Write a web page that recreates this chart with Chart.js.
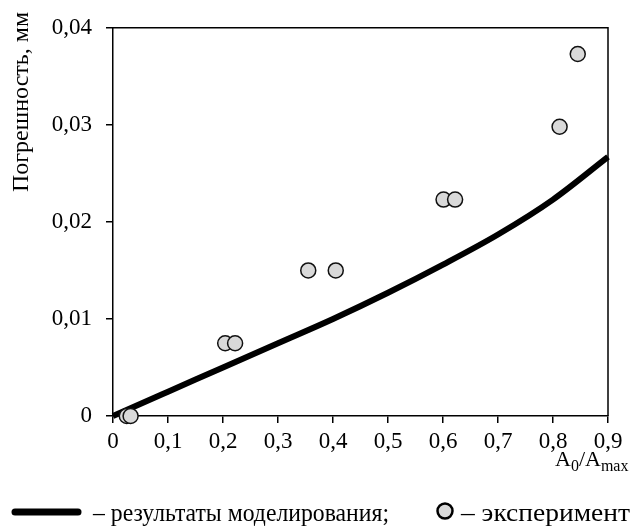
<!DOCTYPE html>
<html>
<head>
<meta charset="utf-8">
<script src="https://cdn.jsdelivr.net/npm/chart.js@4.4.1/dist/chart.umd.min.js"></script>
<style>
  html, body { margin: 0; padding: 0; background: #fff; }
  #wrap { width: 633px; height: 528px; position: relative; }
</style>
</head>
<body>
<div id="wrap"><canvas id="chart"></canvas></div>
<script>
// model curve (results of modelling)
const modelX = [0, 0.1, 0.2, 0.3, 0.4, 0.5, 0.6, 0.7, 0.8, 0.9];
const modelY = [0, 0.0025, 0.0050, 0.0075, 0.0100, 0.0127, 0.0156, 0.0187, 0.0223, 0.0267];

// experiment points
const expX = [0.025, 0.032, 0.204, 0.222, 0.355, 0.405, 0.601, 0.622, 0.812, 0.845];
const expY = [0, 0, 0.0075, 0.0075, 0.015, 0.015, 0.0223, 0.0223, 0.0298, 0.0373];

const FONT = '"Liberation Serif", "Times New Roman", serif';

const comma = (v, d) => v === 0 ? '0' : v.toFixed(d).replace('.', ',');

// draw text squeezed/stretched so it fits between x0 and x1
function fitText(ctx, txt, x0, x1, y) {
    const w = ctx.measureText(txt).width;
    ctx.save();
    ctx.translate(x0, y);
    ctx.scale((x1 - x0) / w, 1);
    ctx.fillText(txt, 0, 0);
    ctx.restore();
}

// frame on top/right, axis titles and the bottom legend
const extras = {
    id: 'extras',
    afterDraw(chart) {
        const ctx = chart.ctx;
        const a = chart.chartArea;
        ctx.save();
        ctx.strokeStyle = '#000';
        ctx.lineWidth = 1.5;
        ctx.beginPath();
        ctx.moveTo(a.left, a.top);
        ctx.lineTo(a.right, a.top);
        ctx.lineTo(a.right, a.bottom);
        ctx.stroke();

        // y title
        ctx.fillStyle = '#000';
        ctx.font = '24px ' + FONT;
        ctx.translate(28, 102);
        ctx.rotate(-Math.PI / 2);
        ctx.textAlign = 'center';
        ctx.textBaseline = 'alphabetic';
        ctx.fillText('Погрешность, мм', 0, 0);
        ctx.restore();

        // x title A0/Amax
        ctx.save();
        ctx.fillStyle = '#000';
        ctx.textBaseline = 'alphabetic';
        let x = 555, y = 466;
        ctx.font = '22px ' + FONT;
        ctx.fillText('A', x, y); x += ctx.measureText('A').width;
        ctx.font = '16px ' + FONT;
        ctx.fillText('0', x, y + 5); x += ctx.measureText('0').width;
        ctx.font = '22px ' + FONT;
        ctx.fillText('/A', x, y); x += ctx.measureText('/A').width;
        ctx.font = '16px ' + FONT;
        ctx.fillText('max', x, y + 5);

        // legend
        ctx.strokeStyle = '#000';
        ctx.lineWidth = 7;
        ctx.lineCap = 'round';
        ctx.beginPath();
        ctx.moveTo(15, 512);
        ctx.lineTo(78, 512);
        ctx.stroke();
        ctx.font = '25px ' + FONT;
        fitText(ctx, '– результаты моделирования;', 93, 389, 521);
        ctx.beginPath();
        ctx.arc(445, 511, 7.5, 0, Math.PI * 2);
        ctx.fillStyle = '#d9d9d9';
        ctx.fill();
        ctx.lineWidth = 2.5;
        ctx.stroke();
        ctx.fillStyle = '#000';
        fitText(ctx, '– эксперимент', 461, 630, 521);
        ctx.restore();
    }
};

new Chart(document.getElementById('chart'), {
    type: 'scatter',
    data: {
        datasets: [
            {
                label: 'эксперимент',
                data: expX.map((x, i) => ({ x: x, y: expY[i] })),
                pointRadius: 7.5,
                pointBackgroundColor: '#d9d9d9',
                pointBorderColor: '#111',
                pointBorderWidth: 1.5,
                showLine: false,
                clip: false,
                order: 0
            },
            {
                label: 'результаты моделирования',
                data: modelX.map((x, i) => ({ x: x, y: modelY[i] })),
                showLine: true,
                borderColor: '#000',
                borderWidth: 6,
                pointRadius: 0,
                cubicInterpolationMode: 'monotone',
                clip: false,
                order: 1
            }
        ]
    },
    options: {
        responsive: true,
        maintainAspectRatio: false,
        animation: false,
        layout: { padding: { left: 0, top: 25, right: 25, bottom: 62 } },
        plugins: {
            legend: { display: false },
            tooltip: { enabled: false }
        },
        scales: {
            x: {
                type: 'linear',
                min: 0,
                max: 0.9,
                afterFit: s => { s.height = 50; },
                ticks: {
                    stepSize: 0.1,
                    color: '#000',
                    padding: 5,
                    font: { family: FONT, size: 23 },
                    callback: v => comma(v, 1)
                },
                grid: { drawOnChartArea: false, tickLength: 7, color: '#000', lineWidth: 1.5 },
                border: { color: '#000', width: 1.5 }
            },
            y: {
                min: 0,
                max: 0.04,
                afterFit: s => { s.width = 113; },
                ticks: {
                    stepSize: 0.01,
                    color: '#000',
                    padding: 14,
                    font: { family: FONT, size: 23 },
                    callback: v => comma(v, 2)
                },
                grid: { drawOnChartArea: false, tickLength: 7, color: '#000', lineWidth: 1.5 },
                border: { color: '#000', width: 1.5 }
            }
        }
    },
    plugins: [extras]
});
</script>
</body>
</html>
